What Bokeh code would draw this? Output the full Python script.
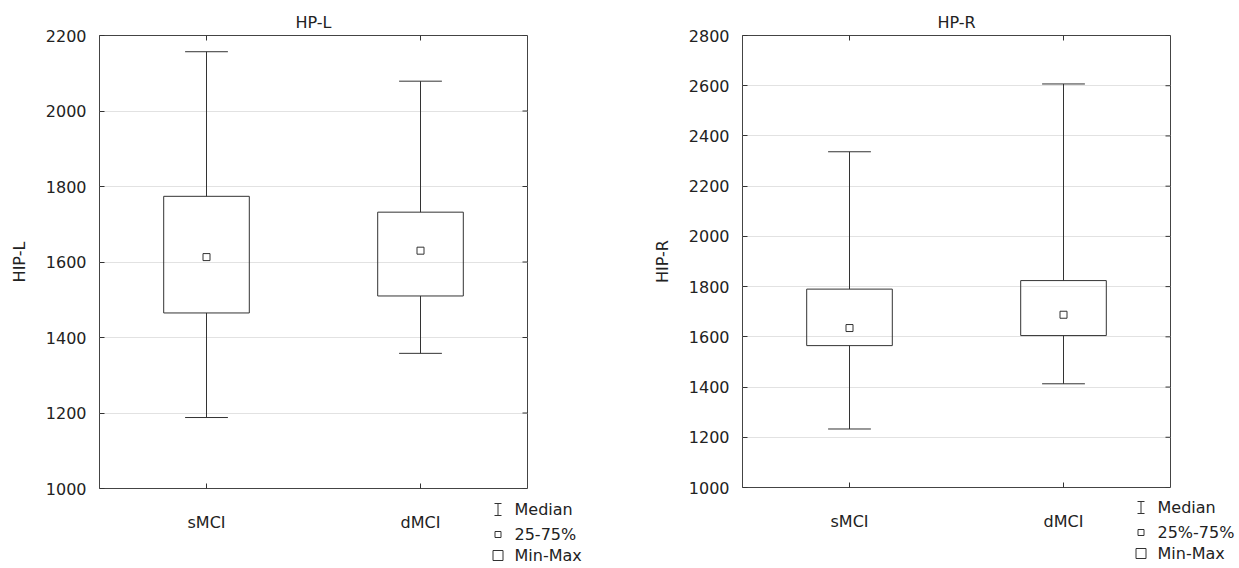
from bokeh.plotting import figure
from bokeh.layouts import row
from bokeh.models import FactorRange, Range1d, FixedTicker, ColumnDataSource
from bokeh.core.properties import value
from bokeh.transform import dodge
from bokeh.embed import file_html
from bokeh.resources import INLINE

categories = ["sMCI", "dMCI"]

hpl_min = [1188, 1358]
hpl_q1 = [1465, 1510]
hpl_median = [1613, 1630]
hpl_q3 = [1774, 1732]
hpl_max = [2157, 2079]

hpr_min = [1233, 1413]
hpr_q1 = [1565, 1605]
hpr_median = [1635, 1688]
hpr_q3 = [1790, 1824]
hpr_max = [2337, 2607]

ticks_l = [1000, 1200, 1400, 1600, 1800, 2000, 2200]
ticks_r = [1000, 1200, 1400, 1600, 1800, 2000, 2200, 2400, 2600, 2800]

legend_l = ["Median", "25-75%", "Min-Max"]
legend_r = ["Median", "25%-75%", "Min-Max"]

FONT = "DejaVu Sans"
TXT = "#222222"
LINE = "#333333"
FW = 428
TICK = 5


def panel(title, ylabel, ticks, mins, q1, med, q3, maxs, legend_labels,
          b_left, b_top, f_height, b_right, total_h, leg_off):
    ymin, ymax = ticks[0], ticks[-1]
    p = figure(x_range=FactorRange(*categories),
               y_range=Range1d(ymin, ymax),
               frame_width=FW, frame_height=f_height,
               min_border_left=b_left, min_border_right=b_right,
               min_border_top=b_top, min_border_bottom=total_h - b_top - f_height,
               output_backend="svg", toolbar_location=None)
    p.title.text = title
    p.title.align = "center"
    p.title.text_font = FONT
    p.title.text_font_size = "16px"
    p.title.text_font_style = "normal"
    p.title.text_color = TXT
    p.title.standoff = 7

    # pixel -> data helpers (for decorations only)
    ypx = (ymax - ymin) / f_height
    xpx = 2.0 / FW

    src = ColumnDataSource(dict(x=categories, mn=mins, q1=q1, med=med, q3=q3, mx=maxs))

    # whiskers
    p.segment(x0="x", y0="q3", x1="x", y1="mx", source=src, line_color=LINE, line_width=1)
    p.segment(x0="x", y0="q1", x1="x", y1="mn", source=src, line_color=LINE, line_width=1)
    # caps
    for col in ("mx", "mn"):
        p.segment(x0=dodge("x", -0.1, range=p.x_range), y0=col,
                  x1=dodge("x", 0.1, range=p.x_range), y1=col, source=src,
                  line_color=LINE, line_width=1)
    # box
    p.vbar(x="x", bottom="q1", top="q3", width=0.4, source=src,
           fill_color=None, line_color=LINE, line_width=1)
    # median marker
    p.scatter(x="x", y="med", source=src, marker="square", size=7,
              fill_color=None, line_color=LINE, line_width=1)

    # inner ticks on the right and top edges
    p.segment(x0=[2.0 - TICK * xpx] * len(ticks), y0=ticks,
              x1=[2.0] * len(ticks), y1=ticks, line_color=LINE, line_width=1)
    p.segment(x0=categories, y0=[ymax - TICK * ypx] * len(categories),
              x1=categories, y1=[ymax] * len(categories), line_color=LINE, line_width=1)

    # axes
    p.yaxis.ticker = FixedTicker(ticks=ticks)
    p.yaxis.axis_label = ylabel
    for ax in (p.xaxis[0], p.yaxis[0]):
        ax.axis_line_color = None
        ax.major_tick_in = TICK
        ax.major_tick_out = 0
        ax.minor_tick_line_color = None
        ax.major_tick_line_color = LINE
        ax.major_label_text_font = FONT
        ax.major_label_text_font_size = "16px"
        ax.major_label_text_color = TXT
        ax.axis_label_text_font = FONT
        ax.axis_label_text_font_size = "16px"
        ax.axis_label_text_font_style = "normal"
        ax.axis_label_text_color = TXT
    p.yaxis.major_label_standoff = 13
    p.yaxis.axis_label_standoff = 14
    p.xaxis.major_label_standoff = 24

    p.xgrid.grid_line_color = None
    p.ygrid.ticker = FixedTicker(ticks=ticks)
    p.ygrid.grid_line_color = "#e2e2e2"
    p.ygrid.grid_line_width = 1.2
    p.outline_line_color = "#444444"
    p.outline_line_width = 1
    p.background_fill_color = "white"
    p.border_fill_color = "white"

    # legend below the lower right corner of the frame (overlay level, unclipped)
    sym_x = 398.5 * xpx
    txt_x = 415 * xpx
    ys = [ymin - o * ypx for o in leg_off]
    # I-beam symbol for the median
    p.segment(x0=[sym_x], y0=[ys[0] - 6 * ypx], x1=[sym_x], y1=[ys[0] + 6 * ypx],
              line_color=LINE, line_width=1, level="overlay")
    p.segment(x0=[sym_x - 3.5 * xpx, sym_x - 3.5 * xpx],
              y0=[ys[0] - 6 * ypx, ys[0] + 6 * ypx],
              x1=[sym_x + 3.5 * xpx, sym_x + 3.5 * xpx],
              y1=[ys[0] - 6 * ypx, ys[0] + 6 * ypx],
              line_color=LINE, line_width=1, level="overlay")
    # small square (25-75%) and large square (min-max) as closed outlines
    sq_xs, sq_ys = [], []
    for yc, half in ((ys[1], 3.0), (ys[2], 5.0)):
        hx, hy = half * xpx, half * ypx
        sq_xs.append([sym_x - hx, sym_x + hx, sym_x + hx, sym_x - hx, sym_x - hx])
        sq_ys.append([yc - hy, yc - hy, yc + hy, yc + hy, yc - hy])
    p.multi_line(xs=sq_xs, ys=sq_ys, line_color=LINE, line_width=1, level="overlay")
    p.text(x=[txt_x] * 3, y=ys, text=legend_labels, text_font=value(FONT),
           text_font_size="16px", text_baseline="middle", text_align="left",
           text_color=TXT, level="overlay")
    return p


H = 564
p1 = panel("HP-L", "HIP-L", ticks_l, hpl_min, hpl_q1, hpl_median, hpl_q3, hpl_max,
           legend_l, b_left=99, b_top=33, f_height=453, b_right=85, total_h=H,
           leg_off=[21, 46, 67])
p2 = panel("HP-R", "HIP-R", ticks_r, hpr_min, hpr_q1, hpr_median, hpr_q3, hpr_max,
           legend_r, b_left=130, b_top=35, f_height=452, b_right=68, total_h=H,
           leg_off=[20, 45, 66])

layout = row(p1, p2, spacing=0)
open("out.html", "w").write(file_html(layout, INLINE))
